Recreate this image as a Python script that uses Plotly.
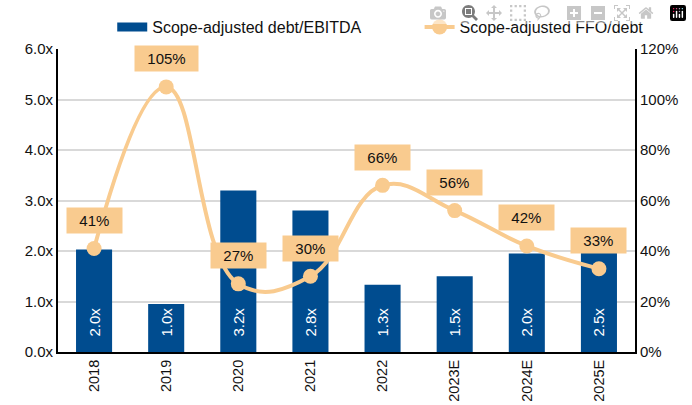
import plotly.graph_objects as go

categories = ["2018", "2019", "2020", "2021", "2022", "2023E", "2024E", "2025E"]
debt_ebitda = [2.03, 0.95, 3.2, 2.8, 1.33, 1.5, 1.95, 2.45]
debt_ebitda_labels = ["2.0x", "1.0x", "3.2x", "2.8x", "1.3x", "1.5x", "2.0x", "2.5x"]
ffo_debt = [41, 105, 27, 30, 66, 56, 42, 33]

BAR = "#004C8F"
LINE = "#F9CB8F"
FONT = "Liberation Sans, Arial, sans-serif"
NB = "\u00a0"

fig = go.Figure()
fig.add_trace(go.Bar(
    x=categories, y=debt_ebitda, name="Scope-adjusted debt/EBITDA", showlegend=False,
    marker=dict(color=BAR, line=dict(width=0)),
    text=[NB * 3 + t for t in debt_ebitda_labels], textposition="inside",
    insidetextanchor="start", textangle=-90,
    textfont=dict(color="white", size=15, family=FONT),
))
# legend-only entry giving the bar series a wide rectangular swatch
fig.add_trace(go.Scatter(
    x=[None], y=[None], name="Scope-adjusted debt/EBITDA" + NB * 12, mode="lines",
    line=dict(color=BAR, width=9),
))
fig.add_trace(go.Scatter(
    x=categories, y=ffo_debt, name="Scope-adjusted FFO/debt", yaxis="y2",
    mode="lines+markers", line=dict(color=LINE, width=4, shape="spline", smoothing=1.2),
    marker=dict(color=LINE, size=15),
))

# category axis: annotation x given as category index (numeric-looking names would be read as indices)
for i, v in enumerate(ffo_debt):
    fig.add_annotation(
        x=i, y=v, xref="x", yref="y2", text=f"{NB*2}{v}%{NB*2}", showarrow=False, yshift=28,
        bgcolor=LINE, borderpad=4, font=dict(size=15, color="#111111", family=FONT),
    )

fig.update_layout(
    width=692, height=405,
    margin=dict(l=58, r=57, t=49, b=53, autoexpand=False),
    paper_bgcolor="white", plot_bgcolor="white",
    font=dict(family=FONT, size=15, color="#111111"),
    bargap=0.5,
    showlegend=True,
    legend=dict(orientation="h", x=0.094, xanchor="left", y=1.0726, yanchor="middle",
                font=dict(size=16), bgcolor="rgba(0,0,0,0)"),
    xaxis=dict(type="category", range=[-0.5, len(categories) - 0.5], tickangle=-90,
               showline=True, linecolor="black", linewidth=2, automargin=False,
               ticks="", tickfont=dict(size=14.5), showgrid=False),
    yaxis=dict(range=[0, 6], dtick=1, tickformat=".1f", ticksuffix="x", automargin=False,
               showline=True, linecolor="black", linewidth=2, ticks="",
               gridcolor="#D9D9D9", gridwidth=2, zeroline=False, tickfont=dict(size=15)),
    yaxis2=dict(range=[0, 120], dtick=20, ticksuffix="%", overlaying="y", side="right",
                showline=True, linecolor="black", linewidth=2, ticks="", showgrid=False,
                automargin=False, zeroline=False, tickfont=dict(size=15)),
)

fig.write_html("out.html", post_script="document.body.style.margin='0';")
